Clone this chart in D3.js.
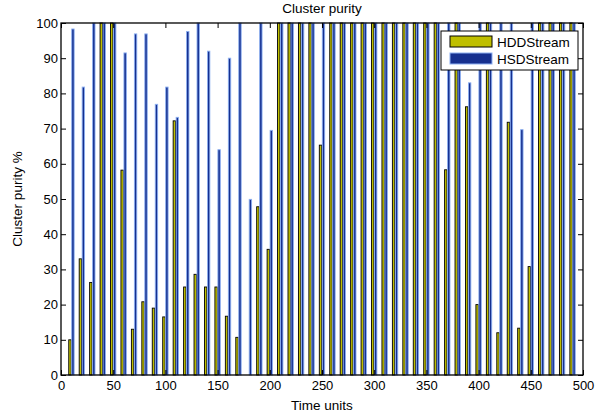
<!DOCTYPE html>
<html>
<head>
<meta charset="utf-8">
<script src="https://cdn.jsdelivr.net/npm/d3@7"></script>
<style>
  html, body { margin: 0; padding: 0; background: #fff; }
  svg { display: block; font-family: Arial, "Liberation Sans", Helvetica, sans-serif; }
</style>
</head>
<body>
<svg id="chart" width="604" height="417"></svg>
<script>
// Time steps (x positions of the bar groups)
const timeUnits = [10, 20, 30, 40, 50, 60, 70, 80, 90, 100,
  110, 120, 130, 140, 150, 160, 170, 180, 190, 200,
  210, 220, 230, 240, 250, 260, 270, 280, 290, 300,
  310, 320, 330, 340, 350, 360, 370, 380, 390, 400,
  410, 420, 430, 440, 450, 460, 470, 480, 490];

// Cluster purity (%) per time step
const hddStream = [10, 33, 26.3, 100, 100, 58.2, 13, 20.8, 19, 16.5,
  72.2, 25, 28.6, 25, 25, 16.7, 10.7, 0, 47.8, 35.7,
  100, 100, 100, 100, 65.3, 100, 100, 100, 100, 100,
  100, 100, 100, 100, 100, 100, 58.3, 100, 76.2, 20,
  100, 12, 71.8, 13.3, 30.8, 100, 100, 100, 100];

const hsdStream = [98.3, 81.8, 100, 100, 100, 91.5, 96.9, 96.9, 76.9, 81.8,
  73.2, 97.6, 100, 92, 64, 90, 100, 49.9, 100, 69.5,
  100, 100, 100, 100, 100, 100, 100, 100, 100, 100,
  100, 100, 100, 100, 100, 100, 100, 100, 83, 100,
  100, 100, 100, 69.7, 100, 100, 100, 100, 100];

const seriesNames = ["HDDStream", "HSDStream"];
const xTicks = [0, 50, 100, 150, 200, 250, 300, 350, 400, 450, 500];
const yTicks = [0, 10, 20, 30, 40, 50, 60, 70, 80, 90, 100];

const svg = d3.select("#chart");
const pLeft = 61, pRight = 583, pTop = 23, pBottom = 375;

const x = d3.scaleLinear().domain([0, 500]).range([pLeft, pRight]);
const y = d3.scaleLinear().domain([0, 100]).range([pBottom, pTop]);

// grouped bar offsets within each time step (in time units)
const slot = 2.857, barW = 2.29;
const series = [
  { name: seriesNames[0], values: hddStream, fill: "#bfbf00", stroke: "#000000", off: -slot / 2 },
  { name: seriesNames[1], values: hsdStream, fill: "#16308f", stroke: "#8db0f2", off: slot / 2 }
];

const plot = svg.append("g");
series.forEach(s => {
  plot.append("g").selectAll("rect")
    .data(timeUnits.map((t, i) => ({ t, v: s.values[i] })).filter(d => d.v > 0))
    .join("rect")
    .attr("x", d => x(d.t + s.off - barW / 2))
    .attr("width", d => x(d.t + s.off + barW / 2) - x(d.t + s.off - barW / 2))
    .attr("y", d => y(d.v))
    .attr("height", d => y(0) - y(d.v))
    .attr("fill", s.fill)
    .attr("stroke", s.stroke)
    .attr("stroke-width", 0.9);
});

// axes: ticks point inward on all four sides
const tickLen = 5;
const axB = svg.append("g").attr("transform", `translate(0,${pBottom})`)
  .call(d3.axisBottom(x).tickValues(xTicks).tickSizeInner(-tickLen).tickSizeOuter(0).tickPadding(6));
const axT = svg.append("g").attr("transform", `translate(0,${pTop})`)
  .call(d3.axisTop(x).tickValues(xTicks).tickSizeInner(-tickLen).tickSizeOuter(0).tickFormat(""));
const axL = svg.append("g").attr("transform", `translate(${pLeft},0)`)
  .call(d3.axisLeft(y).tickValues(yTicks).tickSizeInner(-tickLen).tickSizeOuter(0).tickPadding(3));
const axR = svg.append("g").attr("transform", `translate(${pRight},0)`)
  .call(d3.axisRight(y).tickValues(yTicks).tickSizeInner(-tickLen).tickSizeOuter(0).tickFormat(""));

[axB, axT, axL, axR].forEach(a => {
  a.select(".domain").remove();
  a.selectAll("line").attr("stroke", "#000").attr("stroke-width", 1);
  a.selectAll("text").attr("fill", "#000").style("font-size", "13px")
    .style("font-family", "Arial, 'Liberation Sans', sans-serif");
});

svg.append("rect")
  .attr("x", pLeft).attr("y", pTop)
  .attr("width", pRight - pLeft).attr("height", pBottom - pTop)
  .attr("fill", "none").attr("stroke", "#000").attr("stroke-width", 1.3);

// titles
svg.append("text").attr("x", (pLeft + pRight) / 2).attr("y", 13)
  .attr("text-anchor", "middle").style("font-size", "13.5px").text("Cluster purity");
svg.append("text").attr("x", (pLeft + pRight) / 2).attr("y", 410)
  .attr("text-anchor", "middle").style("font-size", "13.5px").text("Time units");
svg.append("text")
  .attr("transform", `translate(22,${(pTop + pBottom) / 2}) rotate(-90)`)
  .attr("text-anchor", "middle").style("font-size", "13.5px").text("Cluster purity %");

// legend
const lg = svg.append("g");
lg.append("rect").attr("x", 441).attr("y", 31).attr("width", 137).attr("height", 39)
  .attr("fill", "#fff").attr("stroke", "#000").attr("stroke-width", 1);
series.forEach((s, i) => {
  const ly = 36 + i * 17;
  lg.append("rect").attr("x", 450).attr("y", ly).attr("width", 42).attr("height", 11)
    .attr("fill", s.fill).attr("stroke", s.stroke).attr("stroke-width", 1);
  lg.append("text").attr("x", 497).attr("y", ly + 10.5)
    .style("font-size", "13.5px").text(s.name);
});
</script>
</body>
</html>
